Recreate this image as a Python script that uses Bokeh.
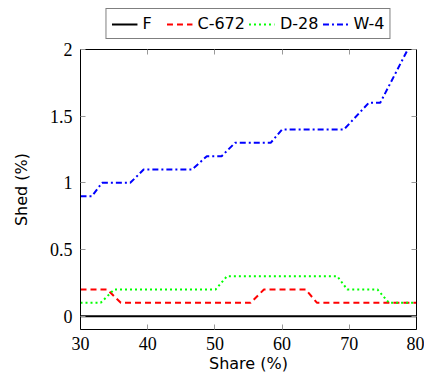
from bokeh.plotting import figure
from bokeh.layouts import column
from bokeh.models import LinearAxis, FixedTicker, Legend, LegendItem, Range1d
from bokeh.embed import file_html
from bokeh.resources import INLINE

# Data
f_x = [30, 80]
f_y = [0, 0]
c_x = [30, 34, 36, 55.3, 57.3, 63.5, 65.2, 80]
c_y = [0.2, 0.2, 0.1, 0.1, 0.2, 0.2, 0.1, 0.1]
d_x = [30, 33, 35, 50.1, 51.8, 68.2, 69.7, 74.2, 75.9, 80]
d_y = [0.1, 0.1, 0.2, 0.2, 0.3, 0.3, 0.2, 0.2, 0.1, 0.1]
w_x = [30, 31.7, 33.2, 37.4, 39.4, 46.6, 48.8, 51, 53, 58.3, 60, 69.2, 72.9, 74.6, 78.7]
w_y = [0.9, 0.9, 1.0, 1.0, 1.1, 1.1, 1.2, 1.2, 1.3, 1.3, 1.4, 1.4, 1.6, 1.6, 2.0]

names = ["F", "C-672", "D-28", "W-4"]
x_ticks = [30, 40, 50, 60, 70, 80]
y_ticks = [0, 0.5, 1, 1.5, 2]
y_labels = ["0", "0.5", "1", "1.5", "2"]

series = [(f_x, f_y), (c_x, c_y), (d_x, d_y), (w_x, w_y)]
styles = [
    dict(line_color="black", line_width=2),
    dict(line_color="#ff0000", line_width=2, line_dash="6 4"),
    dict(line_color="#00ff00", line_width=2, line_dash="2 3"),
    dict(line_color="#0000ff", line_width=2, line_dash="6 3 2 3"),
]

serif = "Liberation Serif"
sans = "DejaVu Sans"

# ---- legend strip (own figure, data ranges chosen so the lines stay off-canvas)
lg = figure(width=424, height=41, output_backend="svg", toolbar_location=None,
            x_range=Range1d(30, 80), y_range=Range1d(100, 101),
            x_axis_location=None, y_axis_location=None,
            min_border_left=0, min_border_right=0, min_border_top=0, min_border_bottom=0)
lg.xgrid.visible = False
lg.ygrid.visible = False
lg.outline_line_color = None
lg_r = [lg.line(x, y, **s) for (x, y), s in zip(series, styles)]
legend = Legend(items=[LegendItem(label=n, renderers=[r]) for n, r in zip(names, lg_r)],
                orientation="horizontal", location="top_center")
legend.label_text_font = sans
legend.label_text_font_size = "16px"
legend.label_text_color = "black"
legend.border_line_color = "black"
legend.border_line_width = 1
legend.glyph_width = 26
legend.glyph_height = 16
legend.label_standoff = 5
legend.spacing = 4
legend.padding = 5
legend.margin = 8
legend.background_fill_alpha = 1
lg.add_layout(legend, "center")

# ---- main plot
p = figure(width=424, height=335, output_backend="svg", toolbar_location=None,
           x_range=Range1d(30, 80), y_range=Range1d(-0.1, 2.0),
           min_border_left=80, min_border_right=8, min_border_top=8, min_border_bottom=47)
p.xgrid.visible = False
p.ygrid.visible = False
p.outline_line_color = "black"
p.outline_line_width = 1

for (x, y), s in zip(series, styles):
    p.line(x, y, **s)

def style(ax):
    ax.major_tick_in = 5
    ax.major_tick_out = 0
    ax.minor_tick_in = 0
    ax.minor_tick_out = 0
    ax.major_tick_line_color = "#999999"
    ax.axis_line_color = "black"
    ax.major_label_text_font = serif
    ax.major_label_text_font_size = "18px"
    ax.major_label_text_color = "black"
    ax.axis_label_text_font = sans
    ax.axis_label_text_font_size = "16px"
    ax.axis_label_text_font_style = "normal"
    ax.axis_label_text_color = "black"

xa = p.xaxis[0]
xa.ticker = FixedTicker(ticks=x_ticks)
xa.axis_label = "Share (%)"
style(xa)
xa.major_label_standoff = 7
xa.axis_label_standoff = 1

ya = p.yaxis[0]
ya.ticker = FixedTicker(ticks=y_ticks)
ya.major_label_overrides = {t: l for t, l in zip(y_ticks, y_labels)}
ya.axis_label = "Shed (%)"
style(ya)
ya.major_label_standoff = 8
ya.axis_label_standoff = 16

xt = LinearAxis(ticker=FixedTicker(ticks=x_ticks))
style(xt)
xt.major_label_overrides = {t: "" for t in x_ticks}
xt.major_label_text_font_size = "1px"
xt.major_label_standoff = 0
p.add_layout(xt, "above")
yr = LinearAxis(ticker=FixedTicker(ticks=y_ticks))
style(yr)
yr.major_label_overrides = {t: "" for t in y_ticks}
yr.major_label_text_font_size = "1px"
yr.major_label_standoff = 0
p.add_layout(yr, "right")

layout = column(lg, p, spacing=0)
open("out.html", "w").write(file_html(layout, INLINE))
